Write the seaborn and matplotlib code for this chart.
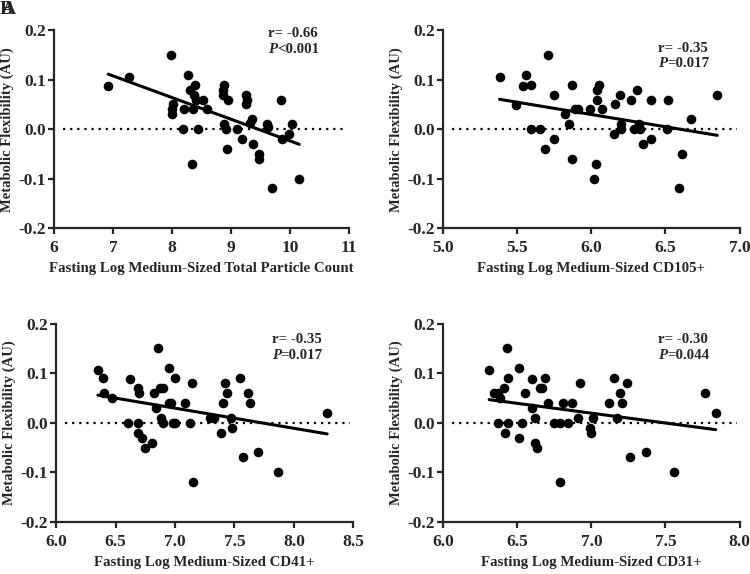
import numpy as np
import pandas as pd
import matplotlib
matplotlib.use('Agg')
import matplotlib.pyplot as plt
import seaborn as sns

# valores (eixo y = flexibilidade metabólica)
x_total = [6.92, 7.28, 7.98, 8.27, 8.0, 8.01, 8.02, 8.2, 8.18, 8.3, 8.4, 8.38, 8.36, 8.41,
           8.52, 8.59, 8.45, 8.34, 8.89, 8.86, 8.86, 8.96, 8.89, 8.91, 8.93, 9.1, 9.19,
           9.26, 9.27, 9.26, 9.32, 9.36, 9.37, 9.47, 9.47, 9.62, 9.63, 9.70, 9.85, 9.86,
           9.99, 10.04, 10.16]
y_total = [0.088, 0.105, 0.15, 0.109, 0.04, 0.03, 0.05, 0.04, 0.0, 0.08, 0.09, 0.07, 0.04, 0.06,
           0.06, 0.04, 0.0, -0.07, 0.09, 0.08, 0.07, 0.06, 0.01, 0.0, -0.04, 0.0, -0.02,
           0.07, 0.06, 0.05, 0.012, 0.02, -0.03, -0.05, -0.06, 0.01, 0.005, -0.12, 0.06, -0.02,
           -0.01, 0.01, -0.1]

x_cd105 = [5.38, 5.49, 5.56, 5.54, 5.59, 5.59, 5.65, 5.71, 5.75, 5.69, 5.75, 5.82, 5.85, 5.87,
           5.89, 5.91, 5.87, 5.99, 6.02, 6.03, 6.04, 6.04, 6.05, 6.07, 6.15, 6.16, 6.19, 6.2,
           6.2, 6.27, 6.29, 6.31, 6.32, 6.33, 6.35, 6.4, 6.4, 6.52, 6.51, 6.67, 6.61, 6.59, 6.85]
y_cd105 = [0.106, 0.049, 0.11, 0.088, 0.09, 0.0, 0.0, 0.15, 0.07, -0.04, -0.02, 0.03, 0.01, 0.09,
           0.04, 0.04, -0.06, 0.04, -0.1, -0.07, 0.06, 0.08, 0.09, 0.04, -0.01, 0.05, 0.07, 0.01,
           0.0, 0.06, 0.0, 0.08, 0.01, 0.0, -0.03, 0.06, -0.02, 0.06, 0.0, 0.02, -0.05, -0.12, 0.07]

x_cd41 = [6.35, 6.39, 6.4, 6.47, 6.62, 6.6, 6.69, 6.7, 6.69, 6.69, 6.72, 6.75, 6.81, 6.82, 6.86,
          6.84, 6.87, 6.9, 6.88, 6.9, 6.95, 6.95, 6.97, 7.0, 6.98, 7.0, 7.08, 7.14, 7.13, 7.15,
          7.29, 7.33, 7.4, 7.42, 7.44, 7.39, 7.47, 7.48, 7.55, 7.57, 7.61, 7.63, 7.7, 7.87, 8.28]
y_cd41 = [0.106, 0.09, 0.06, 0.05, 0.088, 0.0, 0.07, 0.06, 0.0, -0.02, -0.03, -0.05, -0.04, 0.06,
          0.15, 0.03, 0.07, 0.07, 0.01, 0.0, 0.11, 0.04, 0.04, 0.09, 0.0, 0.0, 0.04, 0.08, 0.0,
          -0.12, 0.01, 0.01, 0.04, 0.08, 0.06, -0.02, 0.01, -0.01, 0.09, -0.07, 0.06, 0.04,
          -0.06, -0.1, 0.02]

x_cd31 = [6.31, 6.34, 6.37, 6.38, 6.41, 6.43, 6.44, 6.37, 6.44, 6.42, 6.51, 6.55, 6.53, 6.51,
          6.6, 6.6, 6.62, 6.62, 6.63, 6.65, 6.67, 6.69, 6.71, 6.75, 6.79, 6.81, 6.79, 6.84,
          6.87, 6.92, 6.91, 6.99, 7.0, 7.01, 7.12, 7.15, 7.17, 7.19, 7.21, 7.24, 7.26, 7.37,
          7.56, 7.77, 7.84]
y_cd31 = [0.106, 0.06, 0.06, 0.05, 0.07, 0.15, 0.09, 0.0, 0.0, -0.02, 0.11, 0.06, 0.0, -0.03,
          0.088, 0.03, 0.01, -0.04, -0.05, 0.07, 0.07, 0.09, 0.04, 0.0, 0.0, 0.04, -0.12, 0.0,
          0.04, 0.08, 0.01, -0.01, -0.02, 0.01, 0.04, 0.09, 0.01, 0.06, 0.04, 0.08, -0.07, -0.06,
          -0.1, 0.06, 0.02]

xlabels = ['Fasting Log Medium-Sized Total Particle Count', 'Fasting Log Medium-Sized CD105+',
           'Fasting Log Medium-Sized CD41+', 'Fasting Log Medium-Sized CD31+']
r_txt = ['r= -0.66', 'r= -0.35', 'r= -0.35', 'r= -0.30']
p_txt = ['<0.001', '=0.017', '=0.017', '=0.044']
xlims = [(6, 11), (5.0, 7.0), (6.0, 8.5), (6.0, 8.0)]
xticks = [[6, 7, 8, 9, 10, 11], [5.0, 5.5, 6.0, 6.5, 7.0],
          [6.0, 6.5, 7.0, 7.5, 8.0, 8.5], [6.0, 6.5, 7.0, 7.5, 8.0]]
xfmt = ['{:.0f}', '{:.1f}', '{:.1f}', '{:.1f}']

sns.set_style('ticks')
plt.rcParams['font.family'] = ['Liberation Serif', 'DejaVu Serif']
plt.rcParams['font.weight'] = 'bold'

fig = plt.figure(figsize=(7.5, 5.74), dpi=100)
posicoes = [[0.072, 0.603, 0.393, 0.344], [0.591, 0.603, 0.395, 0.344],
            [0.075, 0.091, 0.396, 0.345], [0.591, 0.091, 0.395, 0.345]]
dados = [(x_total, y_total), (x_cd105, y_cd105), (x_cd41, y_cd41), (x_cd31, y_cd31)]
text_y = [0.985, 0.91, 0.92, 0.92]

for i, (xs, ys) in enumerate(dados):
    ax = fig.add_axes(posicoes[i])
    df = pd.DataFrame({'x': xs, 'y': ys})
    ax.axhline(0, xmin=0.03, xmax=0.99, color='black', linestyle=(0, (1, 2.2)), linewidth=1.6, zorder=1)
    sns.scatterplot(x='x', y='y', data=df, ax=ax, color='black', s=48, edgecolor='black', linewidth=0, zorder=3)
    sns.regplot(x='x', y='y', data=df, ax=ax, scatter=False, ci=None,
                line_kws={'color': 'black', 'linewidth': 2.2, 'zorder': 4})
    ax.set_xlim(*xlims[i])
    ax.set_ylim(-0.2, 0.2)
    ax.set_xticks(xticks[i])
    ax.set_xticklabels([xfmt[i].format(t) for t in xticks[i]])
    ax.set_yticks([-0.2, -0.1, 0.0, 0.1, 0.2])
    ax.set_yticklabels(['-0.2', '-0.1', '0.0', '0.1', '0.2'])
    ax.set_xlabel(xlabels[i], fontsize=10.7, fontweight='bold', labelpad=4)
    ax.set_ylabel('Metabolic Flexibility (AU)', fontsize=10.5, fontweight='bold', labelpad=3)
    sns.despine(ax=ax)
    for s in ['left', 'bottom']:
        ax.spines[s].set_linewidth(1.6)
    ax.tick_params(width=1.6, length=4, labelsize=12.5, direction='out')
    ax.tick_params(axis='x', pad=5)
    ax.tick_params(axis='y', pad=2)
    for lb in ax.get_xticklabels() + ax.get_yticklabels():
        lb.set_fontweight('bold')
    ax.text(0.725, text_y[i], r_txt[i], transform=ax.transAxes, fontsize=10.7,
            fontweight='bold', va='center', ha='left')
    tp = ax.text(0.725, text_y[i] - 0.08, 'P', transform=ax.transAxes, fontsize=10.7,
                 fontweight='bold', style='italic', va='center', ha='left')
    ax.annotate(p_txt[i], xy=(1, 0), xycoords=tp, va='bottom', ha='left',
                fontsize=10.7, fontweight='bold')

# letras dos painéis sobrepostas, como no original
fig.text(0.0, 0.998, 'B', fontsize=14, fontweight='bold', va='top', ha='left')
fig.text(0.002, 0.998, 'A', fontsize=14, fontweight='bold', va='top', ha='left')

plt.savefig('out.png', dpi=100)
